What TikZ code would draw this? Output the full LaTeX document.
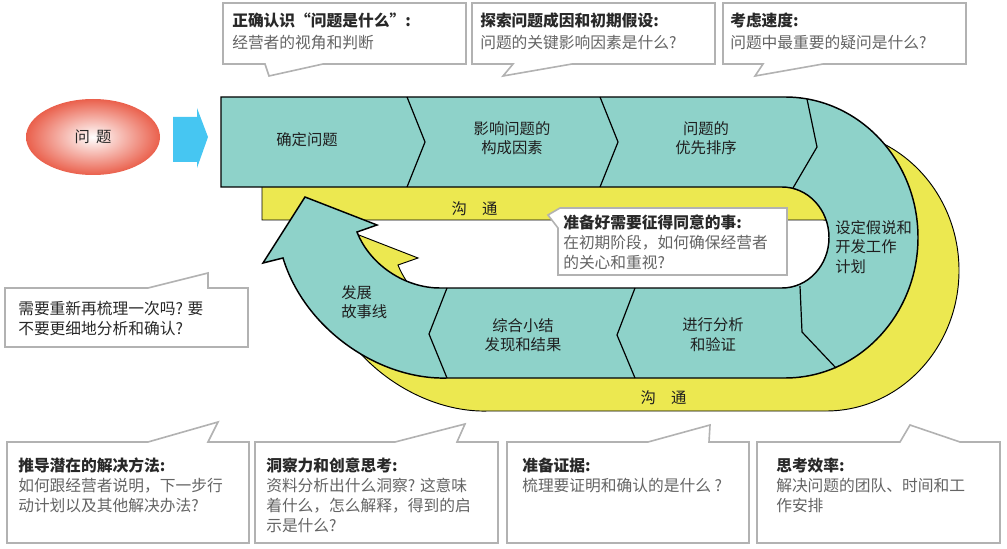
\documentclass[tikz,border=0pt]{standalone}
\usepackage{fontspec}
\newfontfamily\cjk{Noto Sans CJK SC}
\usepackage{xcolor}
\usepackage{tikz}
\usetikzlibrary{shapes.geometric}
\tikzset{>=latex}

\definecolor{bandteal}{RGB}{142,210,201}
\definecolor{commyellow}{RGB}{236,232,80}
\definecolor{arrowblue}{RGB}{70,198,242}
\definecolor{issuered}{RGB}{234,96,76}
\definecolor{bubblegray}{RGB}{178,178,178}
\definecolor{headgray}{RGB}{40,40,40}
\definecolor{bodygray}{RGB}{100,100,100}

\begin{document}
\begin{tikzpicture}[
        x=0.75pt, y=-0.75pt,
        band/.style={fill=bandteal, draw=black, line width=1.1pt},
        commband/.style={fill=commyellow, draw=black, line width=0.7pt},
        divider/.style={draw=black, line width=0.9pt},
        bubble/.style={fill=white, draw=bubblegray, line width=1.2pt},
        steplabel/.style={font=\cjk\fontsize{11.5}{14.5}\selectfont, align=center, text=black!88, inner sep=0pt},
        tiptext/.style={anchor=north west, inner sep=0pt, align=left, text=bodygray, font=\cjk\fontsize{11.8}{15}\selectfont}
    ]
    \useasboundingbox (0,0) rectangle (1007,549);

    %=== Outline of the process band ===%
    % top row, turn on the right, bottom row, return arrow
    \def\bandpath{(221,97) -- (785,97)
        arc[start angle=-90, end angle=90, x radius=133, y radius=140.5]
        -- (447,378) .. controls (380,380) and (305,330) .. (283,258)
        -- (263,263) -- (305,197) -- (377,225) -- (357,232)
        .. controls (370,265) and (405,288) .. (440,288) -- (782,288)
        arc[start angle=90, end angle=-90, x radius=47, y radius=50.5]
        -- (221,187) -- cycle}

    % Communication band behind
    \draw[commband, shift={(41,33)}] \bandpath;
    % Process band in front
    \draw[band] \bandpath;

    % Step dividers
    \draw[divider] (407,97) -- (425,142) -- (407,187);
    \draw[divider] (600,97) -- (618,142) -- (600,187);
    \draw[divider] (807,99) -- (817,147) -- (793,188);
    \draw[divider] (800,286) -- (802,332) -- (836,368);
    \draw[divider] (635,288) -- (617,335) -- (635,378);
    \draw[divider] (447,288) -- (429,334) -- (447,378);

    %=== Issue and entry arrow ===%
    \node[ellipse, minimum width=100.5pt, minimum height=57pt, inner sep=0pt,
        shade, inner color=white, outer color=issuered,
        font=\cjk\fontsize{11.5}{14}\selectfont, text=black!85] (issue) at (93,137) {问\hspace{0.4em}题};
    \fill[arrowblue] (173,117) -- (197,117) -- (197,108) -- (208,137)
        -- (197,168) -- (197,162) -- (173,162) -- cycle;

    %=== Step labels ===%
    \node[steplabel] (define) at (307,140) {确定问题};
    \node[steplabel] (factors) at (512,138.5) {影响问题的\\构成因素};
    \node[steplabel] (priority) at (706,138.5) {问题的\\优先排序};
    \node[steplabel, align=left, anchor=west] (hypothesis) at (835,247) {设定假说和\\开发工作\\计划};
    \node[steplabel] (analysis) at (713,334.5) {进行分析\\和验证};
    \node[steplabel] (summary) at (523,335) {综合小结\\发现和结果};
    \node[steplabel, align=left, anchor=west] (story) at (341,302) {发展\\故事线};
    \node[steplabel] (commtop) at (474.5,209) {沟\hspace{1em}通};
    \node[steplabel] (commbottom) at (663.5,397.5) {沟\hspace{1em}通};

    %=== Callout bubbles ===%
    \draw[bubble] (223,3) -- (466,3) -- (466,64) -- (323,64) -- (269,76) -- (265,64) -- (223,64) -- cycle;
    \draw[bubble] (472,3) -- (715,3) -- (715,64) -- (572,64) -- (503,76) -- (513,64) -- (472,64) -- cycle;
    \draw[bubble] (723,3) -- (966,3) -- (966,64) -- (823,64) -- (755,76) -- (763,64) -- (723,64) -- cycle;
    \draw[bubble] (560,208) -- (787,208) -- (787,275) -- (558,275) -- (558,228) -- (548,215) -- cycle;
    \draw[bubble] (5,288) -- (148,288) -- (208,273) -- (208,288) -- (248,288) -- (248,347) -- (5,347) -- cycle;
    \draw[bubble] (7,442) -- (148,442) -- (218,422) -- (208,442) -- (249,442) -- (249,543) -- (7,543) -- cycle;
    \draw[bubble] (255,442) -- (395,442) -- (465,424) -- (457,442) -- (498,442) -- (498,543) -- (255,543) -- cycle;
    \draw[bubble] (507,442) -- (648,442) -- (710,425) -- (709,442) -- (749,442) -- (749,543) -- (507,543) -- cycle;
    \draw[bubble] (757,442) -- (900,442) -- (910,425) -- (960,442) -- (1000,442) -- (1000,543) -- (757,543) -- cycle;

    %=== Macro to write a callout text ===%
    % #1 = node name
    % #2 = x of the left edge
    % #3 = y of the first line
    % #4 = bold heading
    % #5 = lines below the heading
    % #6 = extra gap after the heading
    \newcommand{\tipnote}[6]{
        \node[tiptext] (#1) at (#2,#3) {{\color{headgray}\bfseries #4}\\[#6] #5};
    }

    \tipnote{whatis}{232}{13}{正确认识“问题是什么”:}{经营者的视角和判断}{1.5pt}
    \tipnote{causes}{480}{13}{探索问题成因和初期假设:}{问题的关键影响因素是什么?}{1.5pt}
    \tipnote{speed}{730}{13}{考虑速度:}{问题中最重要的疑问是什么?}{1.5pt}
    \tipnote{consent}{563}{215}{准备好需要征得同意的事:}{在初期阶段，如何确保经营者\\的关心和重视?}{0pt}
    \tipnote{solution}{18}{458}{推导潜在的解决方法:}{如何跟经营者说明，下一步行\\动计划以及其他解决办法?}{0pt}
    \tipnote{insight}{266}{458}{洞察力和创意思考:}{资料分析出什么洞察? 这意味\\着什么，怎么解释，得到的启\\示是什么?}{0pt}
    \tipnote{evidence}{522}{458}{准备证据:}{梳理要证明和确认的是什么 ?}{0pt}
    \tipnote{efficiency}{776}{458}{思考效率:}{解决问题的团队、时间和工\\作安排}{0pt}

    \node[tiptext, text=headgray] (recheck) at (18,301) {需要重新再梳理一次吗? 要\\不要更细地分析和确认?};

\end{tikzpicture}
\end{document}
